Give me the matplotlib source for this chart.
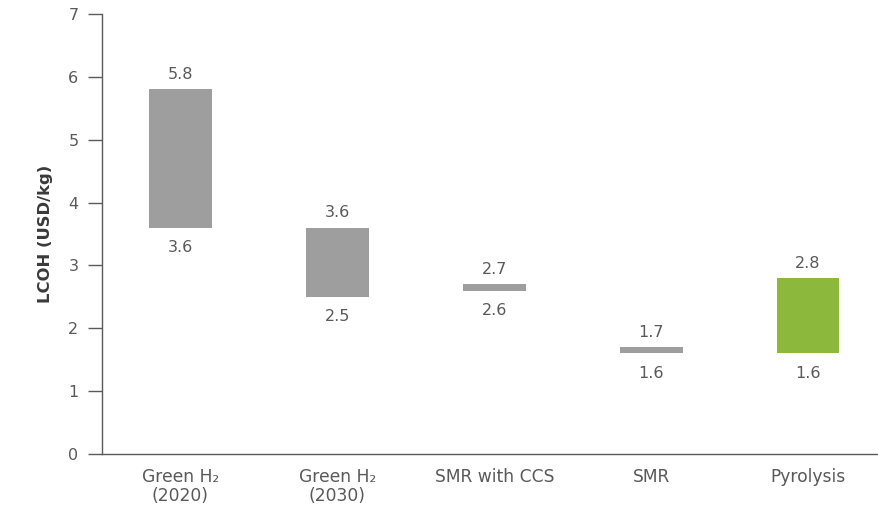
import matplotlib
matplotlib.use("Agg")
import matplotlib.pyplot as plt

plt.rcParams['font.family'] = ['DejaVu Sans']

categories = ["Green H\u2082\n(2020)", "Green H\u2082\n(2030)", "SMR with CCS", "SMR", "Pyrolysis"]
low_values = [3.6, 2.5, 2.6, 1.6, 1.6]
high_values = [5.8, 3.6, 2.7, 1.7, 2.8]
bar_colors = ["#9e9e9e", "#9e9e9e", "#9e9e9e", "#9e9e9e", "#8cb83c"]
y_ticks = [0, 1, 2, 3, 4, 5, 6, 7]

text_color = "#595959"
axis_color = "#5a5a5a"

fig = plt.figure(figsize=(8.79, 5.15), dpi=100)
ax = fig.add_axes([102 / 879, 61 / 515, 777 / 879, 440 / 515])

x = list(range(len(categories)))
heights = [h - l for l, h in zip(low_values, high_values)]
ax.bar(x, heights, bottom=low_values, width=0.4, color=bar_colors, linewidth=0)

# value labels: high end above each bar, low end below it
for xi, lo, hi in zip(x, low_values, high_values):
    ax.annotate(f"{hi:.1f}", (xi, hi), xytext=(0, 7.5), textcoords="offset points",
                ha="center", va="baseline", fontsize=11.5, color=text_color)
    ax.annotate(f"{lo:.1f}", (xi, lo), xytext=(0, -17.5), textcoords="offset points",
                ha="center", va="baseline", fontsize=11.5, color=text_color)

ax.set_xlim(-0.5, 4.452)
ax.set_ylim(0, 7)
ax.set_yticks(y_ticks)
ax.set_yticklabels([str(t) for t in y_ticks])
ax.set_xticks(x)
ax.set_xticklabels(categories, fontsize=12.3, color=text_color, linespacing=1.05)

ax.tick_params(axis="x", length=0, pad=10)
ax.tick_params(axis="y", length=10, width=1.0, color=axis_color, labelsize=11.5,
               labelcolor=text_color, pad=7)

for side in ["top", "right"]:
    ax.spines[side].set_visible(False)
for side in ["left", "bottom"]:
    ax.spines[side].set_color(axis_color)
    ax.spines[side].set_linewidth(1.0)

ax.set_ylabel("LCOH (USD/kg)", fontsize=11.8, fontweight="bold", color="#3a3a3a", labelpad=11)

fig.savefig("out.png", dpi=100)
